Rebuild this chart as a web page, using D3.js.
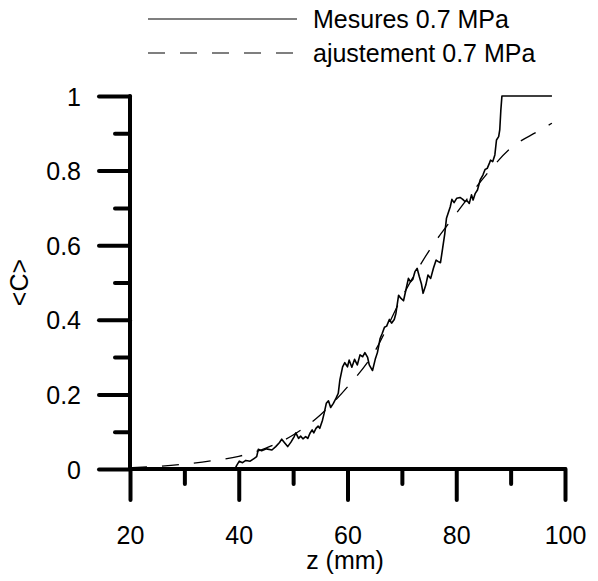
<!DOCTYPE html>
<html>
<head>
<meta charset="utf-8">
<script src="https://cdn.jsdelivr.net/npm/d3@7"></script>
<style>
  html, body { margin: 0; padding: 0; background: #fff; }
  svg { display: block; }
  text { font-family: "Liberation Sans", Arial, sans-serif; fill: #000; }
</style>
</head>
<body>
<svg id="chart" width="598" height="581"></svg>
<script>
// ---- data ----
const xTicksMajor = [20, 40, 60, 80, 100];
const xTicksMinor = [30, 50, 70, 90];
const yTicksMajor = [0, 0.2, 0.4, 0.6, 0.8, 1];
const yTicksMinor = [0.1, 0.3, 0.5, 0.7, 0.9];
const yTickLabels = ["0", "0.2", "0.4", "0.6", "0.8", "1"];

const measZ = [20, 39.3, 39.6, 40.1, 40.7, 41.3, 42.1, 42.8, 43.3, 43.6, 44.2, 45.1, 46.1, 46.8, 47.5, 47.9, 48.5, 49.0, 49.6, 50.2,
  50.5, 51.0, 51.4, 51.8, 52.3, 52.7, 53.1, 53.5, 53.8, 54.2, 54.6, 54.9, 55.4, 55.7, 56.1, 56.5, 56.9, 57.4, 57.9, 58.3,
  58.6, 59.1, 59.5, 60.0, 60.3, 60.8, 61.3, 61.8, 62.3, 62.8, 63.2, 63.7, 64.0, 64.6, 65.1, 65.5, 66.0, 66.4, 66.8, 67.2,
  67.7, 68.1, 68.6, 68.9, 69.4, 69.8, 70.3, 70.8, 71.2, 71.6, 72.0, 72.4, 72.8, 73.2, 73.6, 73.9, 74.4, 74.8, 75.3, 75.8,
  76.3, 76.7, 77.1, 77.5, 77.9, 78.2, 78.9, 79.2, 79.6, 80.1, 80.7, 81.2, 81.6, 82.0, 82.4, 82.8, 83.1, 83.5, 83.9, 84.4,
  84.9, 85.3, 85.7, 86.1, 86.3, 86.7, 87.1, 87.4, 87.8, 88.0, 88.2, 88.4, 97.6];
const measC = [0, 0, 0.009, 0.021, 0.017, 0.023, 0.021, 0.028, 0.033, 0.053, 0.049, 0.054, 0.051, 0.060, 0.071, 0.080, 0.069, 0.060, 0.072, 0.087,
  0.097, 0.082, 0.088, 0.081, 0.087, 0.082, 0.096, 0.105, 0.097, 0.109, 0.115, 0.109, 0.131, 0.149, 0.176, 0.183, 0.165, 0.176, 0.190, 0.203,
  0.239, 0.274, 0.285, 0.274, 0.292, 0.273, 0.294, 0.279, 0.306, 0.301, 0.312, 0.299, 0.279, 0.264, 0.294, 0.312, 0.350, 0.364, 0.380, 0.383,
  0.401, 0.391, 0.401, 0.417, 0.466, 0.458, 0.451, 0.484, 0.511, 0.502, 0.508, 0.529, 0.538, 0.516, 0.496, 0.471, 0.493, 0.520, 0.511, 0.538,
  0.560, 0.556, 0.553, 0.592, 0.632, 0.672, 0.703, 0.723, 0.714, 0.726, 0.728, 0.723, 0.717, 0.719, 0.712, 0.735, 0.721, 0.739, 0.748, 0.775,
  0.788, 0.803, 0.806, 0.820, 0.828, 0.824, 0.842, 0.882, 0.891, 0.909, 0.962, 1.0, 1.0];

const fitZ = [20, 25, 30, 35, 40, 45, 50, 55, 60, 65, 70, 75, 80, 85, 90, 95, 97.6];
const fitC = [0.003, 0.007, 0.013, 0.022, 0.034, 0.056, 0.091, 0.145, 0.22, 0.315, 0.46, 0.585, 0.685, 0.78, 0.86, 0.905, 0.927];

const seriesNames = ["Mesures 0.7 MPa", "ajustement 0.7 MPa"];
const xTitle = "z (mm)";
const yTitle = "<C>";

// ---- chart ----
const svg = d3.select("#chart");
const x = d3.scaleLinear().domain([20, 100]).range([130, 565]);
const y = d3.scaleLinear().domain([0, 1]).range([469, 96]);

const FS = 25;

function styleAxis(g) {
  g.select(".domain").remove();
  g.selectAll(".tick line").attr("stroke", "#000").attr("stroke-width", 4).attr("stroke-linecap", "round");
  g.selectAll(".tick text").attr("font-size", FS).attr("font-family", "Liberation Sans, Arial, sans-serif").attr("fill", "#000");
}

const gxMaj = svg.append("g").attr("transform", `translate(0,${y(0)})`)
  .call(d3.axisBottom(x).tickValues(xTicksMajor).tickSize(31).tickPadding(26).tickFormat(d3.format("d")));
styleAxis(gxMaj);
const gxMin = svg.append("g").attr("transform", `translate(0,${y(0)})`)
  .call(d3.axisBottom(x).tickValues(xTicksMinor).tickSize(15).tickFormat(""));
styleAxis(gxMin);

const gyMaj = svg.append("g").attr("transform", `translate(${x(20)},0)`)
  .call(d3.axisLeft(y).tickValues(yTicksMajor).tickSize(31).tickPadding(18).tickFormat((d, i) => yTickLabels[i]));
styleAxis(gyMaj);
gyMaj.selectAll(".tick text").attr("dy", "0.36em");
const gyMin = svg.append("g").attr("transform", `translate(${x(20)},0)`)
  .call(d3.axisLeft(y).tickValues(yTicksMinor).tickSize(15).tickFormat(""));
styleAxis(gyMin);

// axis lines
svg.append("line").attr("x1", x(20)).attr("x2", x(100)).attr("y1", y(0)).attr("y2", y(0))
  .attr("stroke", "#000").attr("stroke-width", 4).attr("stroke-linecap", "round");
svg.append("line").attr("x1", x(20)).attr("x2", x(20)).attr("y1", y(0)).attr("y2", y(1))
  .attr("stroke", "#000").attr("stroke-width", 4).attr("stroke-linecap", "round");

// series
const meas = measZ.map((z, i) => ({z, c: measC[i]}));
const fit = fitZ.map((z, i) => ({z, c: fitC[i]}));

svg.append("path").datum(fit)
  .attr("fill", "none").attr("stroke", "#000").attr("stroke-width", 1.3)
  .attr("stroke-dasharray", "17,15")
  .attr("d", d3.line().x(d => x(d.z)).y(d => y(d.c)).curve(d3.curveMonotoneX));

svg.append("path").datum(meas)
  .attr("fill", "none").attr("stroke", "#000").attr("stroke-width", 1.6)
  .attr("stroke-linejoin", "round")
  .attr("d", d3.line().x(d => x(d.z)).y(d => y(d.c)));

// titles
svg.append("text").attr("x", 345).attr("y", 569).attr("text-anchor", "middle")
  .attr("font-size", FS).text(xTitle);
svg.append("text").attr("transform", `translate(28,${(y(0) + y(1)) / 2}) rotate(-90)`)
  .attr("text-anchor", "middle").attr("font-size", FS).text(yTitle);

// legend
const leg = svg.append("g");
const legY = [19, 53];
leg.append("line").attr("x1", 148).attr("x2", 297).attr("y1", legY[0]).attr("y2", legY[0])
  .attr("stroke", "#000").attr("stroke-width", 1.2);
leg.append("line").attr("x1", 148).attr("x2", 297).attr("y1", legY[1]).attr("y2", legY[1])
  .attr("stroke", "#000").attr("stroke-width", 1.2).attr("stroke-dasharray", "17,15");
seriesNames.forEach((n, i) => {
  leg.append("text").attr("x", 313).attr("y", legY[i]).attr("dy", "0.36em")
    .attr("font-size", FS).text(n);
});
</script>
</body>
</html>
